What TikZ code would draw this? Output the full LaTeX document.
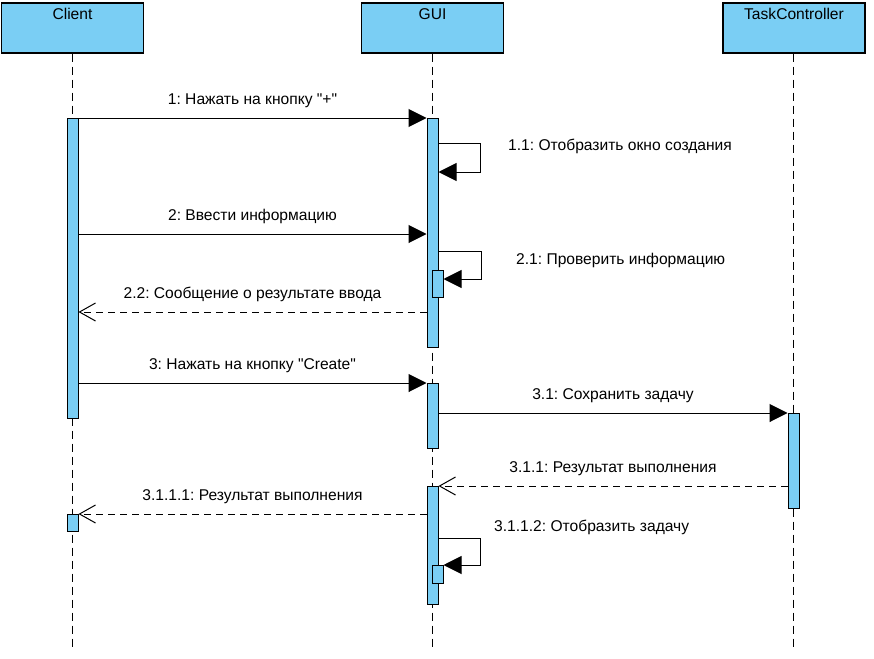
\documentclass[tikz,border=0pt]{standalone}
\usepackage{fontspec}
\setmainfont{Liberation Sans}
\usetikzlibrary{arrows.meta}

\definecolor{lifeblue}{RGB}{122,206,244}

\tikzset{
  head/.style={draw, line width=1.2pt, fill=lifeblue, minimum width=142pt, minimum height=50pt, inner sep=0pt},
  headtext/.style={anchor=north, inner sep=0pt, yshift=-6pt},
  lifeline/.style={line width=1pt, dash pattern=on 8pt off 5pt},
  bar/.style={draw, line width=1pt, fill=lifeblue, minimum width=11pt, inner sep=0pt, anchor=north},
  msg/.style={line width=1pt, -{Triangle[length=18pt,width=18pt]}},
  ret/.style={line width=1pt, dash pattern=on 7pt off 5pt, -{Straight Barb[length=16pt,width=18pt]}},
  lbl/.style={anchor=base, yshift=14pt, inner sep=0pt},
  selflbl/.style={anchor=base west, inner sep=0pt}
}

\begin{document}
\frenchspacing
\begin{tikzpicture}[x=1pt, y=-1pt, font=\fontsize{15.6}{18}\selectfont]
    \useasboundingbox (0,0) rectangle (874,658);

    % Lifeline heads
    \node[head] (client) at (72.5,28) {};
    \node[head] (gui) at (432.5,28) {};
    \node[head] (tc) at (794,28) {};
    \node[headtext] (clientT) at (client.north) {Client};
    \node[headtext] (guiT) at (gui.north) {GUI};
    \node[headtext] (tcT) at (tc.north) {TaskController};

    % Dashed lifelines
    \draw[lifeline] (client.south) -- (client.south |- 0,650);
    \draw[lifeline] (gui.south) -- (gui.south |- 0,650);
    \draw[lifeline] (tc.south -| 793.5,0) -- (793.5,650);

    % Activation bars
    \node[bar, minimum height=300pt] (cA) at (72.5,118) {};
    \node[bar, minimum height=17pt] (cB) at (72.5,514) {};
    \node[bar, minimum height=229pt] (gA) at (432.5,118) {};
    \node[bar, minimum height=27pt] (gA1) at (437.5,270) {};
    \node[bar, minimum height=65pt] (gB) at (432.5,383) {};
    \node[bar, minimum height=118pt] (gC) at (432.5,486) {};
    \node[bar, minimum height=18pt] (gC1) at (437.5,565) {};
    \node[bar, minimum height=95pt] (tA) at (793.5,413) {};

    % Messages
    \draw[msg] (cA.north east) -- (gA.north west)
        node[lbl, midway] (m1) {1: Нажать на кнопку \textquotedbl+\textquotedbl};
    \draw[msg] (gA.east |- 0,143) -- (480,143) |- (gA.east |- 0,172);
    \node[selflbl] (m11) at (508,150) {1.1: Отобразить окно создания};
    \draw[msg] (cA.east |- 0,234) -- (gA.west |- 0,234)
        node[lbl, midway] (m2) {2: Ввести информацию};
    \draw[msg] (gA.east |- 0,251) -- (481,251) |- (gA1.east |- 0,279);
    \node[selflbl] (m21) at (516,264) {2.1: Проверить информацию};
    \draw[ret] (gA.west |- 0,312) -- (cA.east |- 0,312)
        node[lbl, midway] (m22) {2.2: Сообщение о результате ввода};
    \draw[msg] (cA.east |- gB.north) -- (gB.north west)
        node[lbl, midway] (m3) {3: Нажать на кнопку \textquotedbl Create\textquotedbl};
    \draw[msg] (gB.east |- tA.north) -- (tA.north west)
        node[lbl, midway] (m31) {3.1: Сохранить задачу};
    \draw[ret] (tA.west |- gC.north) -- (gC.north east)
        node[lbl, midway] (m311) {3.1.1: Результат выполнения};
    \draw[ret] (gC.west |- cB.north) -- (cB.north east)
        node[lbl, midway] (m3111) {3.1.1.1: Результат выполнения};
    \draw[msg] (gC.east |- 0,538) -- (480,538) |- (gC1.north east);
    \node[selflbl] (m3112) at (494,531) {3.1.1.2: Отобразить задачу};
\end{tikzpicture}
\end{document}
